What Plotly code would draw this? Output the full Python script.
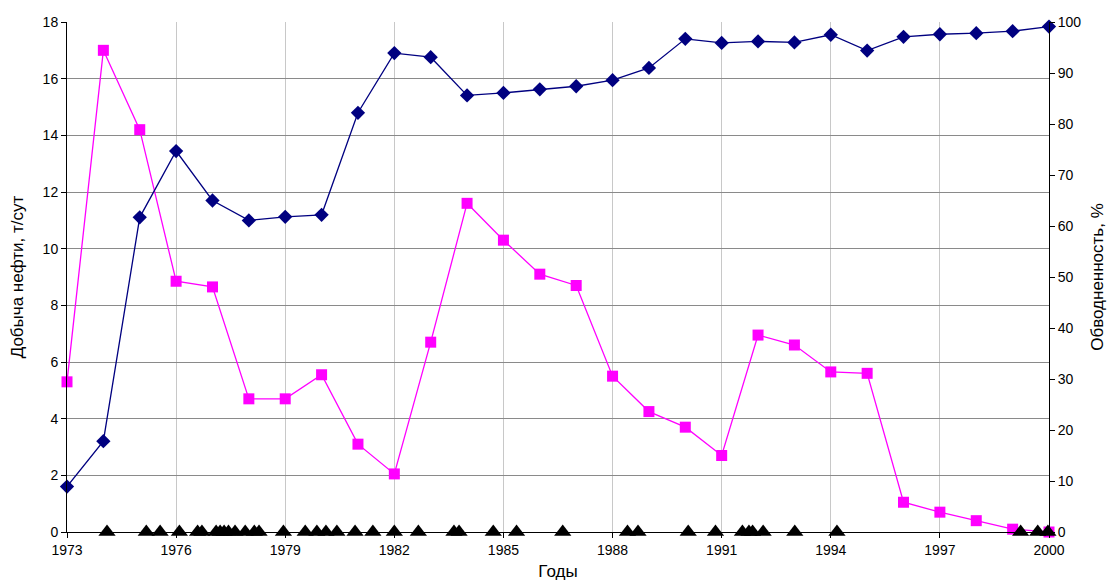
import plotly.graph_objects as go

years = list(range(1973, 2001))
oil = [5.3, 17.0, 14.2, 8.85, 8.65, 4.7, 4.7, 5.55, 3.1, 2.05, 6.7, 11.6, 10.3, 9.1,
       8.7, 5.5, 4.25, 3.7, 2.7, 6.95, 6.6, 5.65, 5.6, 1.05, 0.7, 0.4, 0.1, 0.0]
watercut = [8.9, 17.8, 61.7, 74.7, 65.0, 61.1, 61.8, 62.2, 82.2, 93.9, 93.1, 85.6, 86.1, 86.8,
            87.4, 88.6, 91.0, 96.7, 95.9, 96.2, 96.0, 97.5, 94.4, 97.1, 97.6, 97.8, 98.2, 99.1]
events = [1974.10, 1975.18, 1975.56, 1976.09, 1976.59, 1976.71, 1977.10, 1977.21, 1977.32,
          1977.44, 1977.62, 1977.90, 1978.15, 1978.28, 1978.95, 1979.55, 1979.87, 1980.12,
          1980.42, 1980.92, 1981.41, 1982.00, 1982.66, 1983.64, 1983.78, 1984.72, 1985.36,
          1986.63, 1988.41, 1988.70, 1990.08, 1990.83, 1991.57, 1991.75, 1991.85, 1992.14,
          1993.01, 1994.17, 1999.22, 1999.69, 1999.97]
events_y = [0] * len(events)

font = "Liberation Sans, Arial, sans-serif"
fig = go.Figure()
fig.add_trace(go.Scatter(x=years, y=watercut, yaxis="y2", mode="lines+markers",
                         line=dict(color="#000080", width=1.3),
                         marker=dict(symbol="diamond", size=11, color="#000080"),
                         cliponaxis=False, showlegend=False))
fig.add_trace(go.Scatter(x=years, y=oil, mode="lines+markers",
                         line=dict(color="#FF00FF", width=1.3),
                         marker=dict(symbol="square", size=11, color="#FF00FF"),
                         cliponaxis=False, showlegend=False))
fig.add_trace(go.Scatter(x=events, y=events_y, mode="markers",
                         marker=dict(symbol="triangle-up", size=15, color="black"),
                         cliponaxis=False, showlegend=False))

fig.update_layout(
    width=1107, height=581,
    margin=dict(l=67, r=58, t=22, b=49),
    paper_bgcolor="white", plot_bgcolor="white",
    font=dict(family=font, size=14, color="black"),
    xaxis=dict(range=[1973, 2000], tickvals=list(range(1973, 2001, 3)), automargin=False,
               showgrid=True, gridcolor="#c8c8c8", gridwidth=1,
               showline=True, linecolor="black", linewidth=1,
               ticks="outside", ticklen=5, tickcolor="black",
               zeroline=False, title=dict(text="Годы", standoff=10)),
    yaxis=dict(range=[0, 18], dtick=2, showgrid=True, gridcolor="#8a8a8a", gridwidth=1,
               showline=True, linecolor="black", linewidth=1, automargin=False,
               ticks="outside", ticklen=5, tickcolor="black", zeroline=False,
               title=dict(text="Добыча нефти, т/сут", standoff=14)),
    yaxis2=dict(range=[0, 100], dtick=10, overlaying="y", side="right", showgrid=False,
                showline=True, linecolor="black", linewidth=1, automargin=False,
                ticks="outside", ticklen=5, tickcolor="black", zeroline=False,
                title=dict(text="Обводненность, %", standoff=12)),
)
fig.write_html("out.html", config={"displayModeBar": False},
               post_script="document.body.style.margin='0';document.body.style.overflow='hidden';")
